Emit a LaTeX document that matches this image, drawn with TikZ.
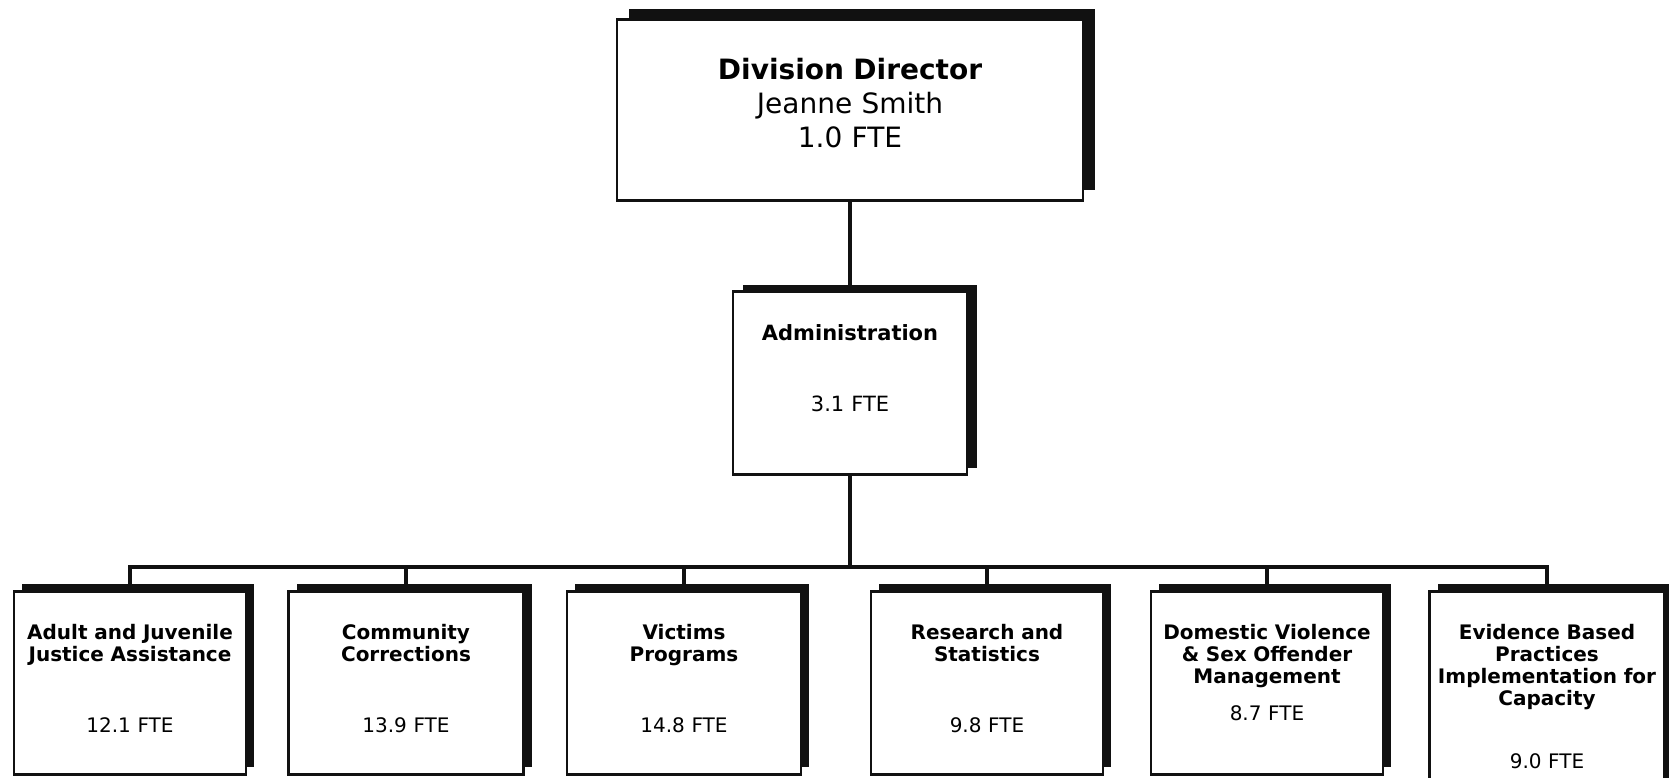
\documentclass[tikz,border=0pt]{standalone}
\usepackage{fontspec}
\setmainfont{DejaVu Sans}
\usetikzlibrary{positioning,shadows}
\definecolor{ink}{RGB}{17,17,17}
\tikzset{
  box/.style={draw=ink,line width=2.6pt,fill=white,align=center,inner xsep=0pt,inner ysep=0pt,anchor=north},
  chief/.style={box,general shadow={fill=ink,shadow xshift=12pt,shadow yshift=10pt},text width=466pt,text height=60pt,text depth=121pt,font=\fontsize{28}{34}\selectfont},
  office/.style={box,general shadow={fill=ink,shadow xshift=10pt,shadow yshift=6pt},text width=234pt,text height=49pt,text depth=134pt,font=\fontsize{21}{25}\selectfont},
  dept/.style={box,general shadow={fill=ink,shadow xshift=8pt,shadow yshift=7pt},text height=48pt,text depth=135pt,font=\fontsize{20}{22}\selectfont},
  link/.style={draw=ink,line width=3.5pt}
}
\begin{document}
\begin{tikzpicture}[x=1pt,y=-1pt]
  \useasboundingbox (0,0) rectangle (1669,778);
  % top of the chart
  \node[chief] (director) at (850,18) {\textbf{Division Director}\\Jeanne Smith\\1.0 FTE};
  \node[office] (admin) at (850,290) {\textbf{Administration}\\[46pt]3.1 FTE};
  % sections
  \node[dept,text width=232pt] (adult) at (130,590) {\textbf{Adult and Juvenile}\\\textbf{Justice Assistance}\\[49pt]12.1 FTE};
  \node[dept,text width=235pt] (community) at (406,590) {\textbf{Community}\\\textbf{Corrections}\\[49pt]13.9 FTE};
  \node[dept,text width=234pt] (victims) at (684,590) {\textbf{Victims}\\\textbf{Programs}\\[49pt]14.8 FTE};
  \node[dept,text width=232pt] (research) at (987,590) {\textbf{Research and}\\\textbf{Statistics}\\[49pt]9.8 FTE};
  \node[dept,text width=232pt] (domestic) at (1267,590) {\textbf{Domestic Violence}\\\textbf{\& Sex Offender}\\\textbf{Management}\\[15pt]8.7 FTE};
  \node[dept,text width=235pt,text depth=162pt] (evidence) at (1547,590) {\textbf{Evidence Based}\\\textbf{Practices}\\\textbf{Implementation for}\\\textbf{Capacity}\\[41pt]9.0 FTE};
  % connectors
  \coordinate (bus) at (850,567);
  \draw[link] (director.south) -- (admin.north);
  \draw[link] (admin.south) -- (bus);
  \foreach \d in {adult,community,victims,research,domestic,evidence}
    \draw[link] (bus) -| (\d.north);
\end{tikzpicture}
\end{document}
